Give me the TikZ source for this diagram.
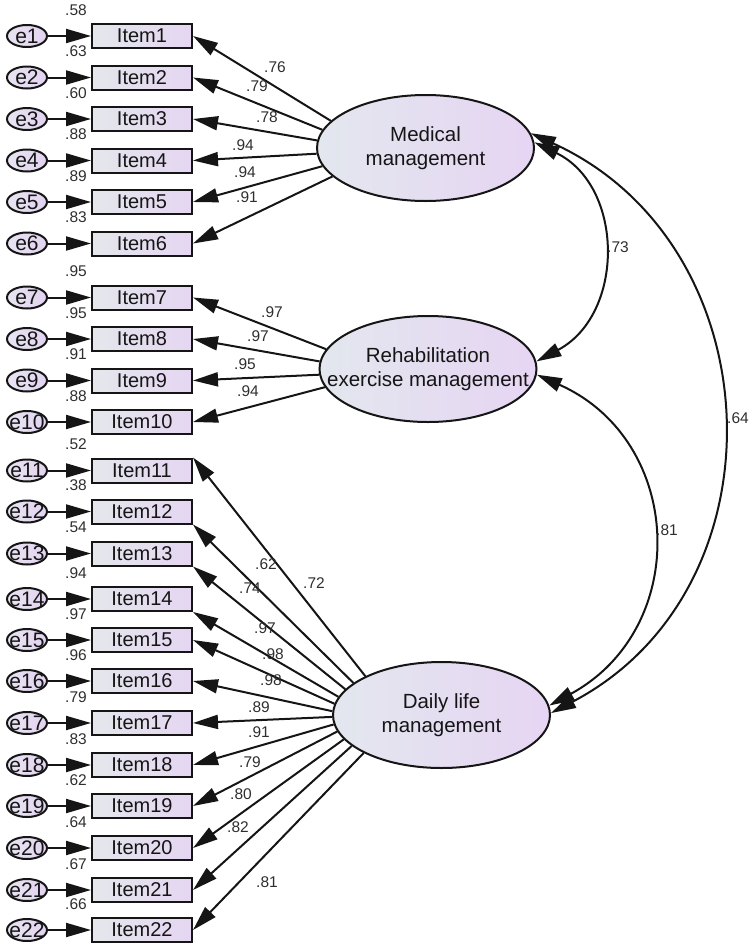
\documentclass[tikz,border=0pt]{standalone}
\usepackage{fontspec}
\setmainfont{Liberation Sans}
\usetikzlibrary{arrows.meta,shapes.geometric,calc}
\definecolor{boxL}{HTML}{E4E7EC}
\definecolor{boxR}{HTML}{E5D6F2}
\definecolor{latL}{HTML}{E3E7EE}
\definecolor{latR}{HTML}{E6D5F3}
\definecolor{eL}{HTML}{E9E4F1}
\definecolor{eR}{HTML}{E2D3F1}
\definecolor{ink}{HTML}{151515}
\definecolor{numc}{HTML}{2E2E2E}
\tikzset{
  x=1pt,y=1pt,
  >={Triangle[length=25pt,width=14pt]},
  item/.style={draw=ink, line width=2pt, left color=boxL, right color=boxR,
    minimum width=100pt, minimum height=24pt, inner sep=0pt,
    font=\fontsize{20}{22}\selectfont, text=ink},
  err/.style={ellipse, draw=ink, line width=2pt, left color=eL, right color=eR,
    minimum width=40pt, minimum height=22pt, inner sep=0pt},
  errtext/.style={font=\fontsize{21}{22}\selectfont, text=ink, inner sep=0pt},
  latent/.style={ellipse, draw=ink, line width=2pt, left color=latL, right color=latR,
    minimum width=217pt, minimum height=106pt, inner sep=0pt},
  lattext/.style={font=\fontsize{20.5}{24}\selectfont, align=center, text=ink, inner sep=0pt},
  num/.style={font=\fontsize{15.5}{17}\selectfont, text=numc, inner sep=0pt},
  conn/.style={line width=2pt, draw=ink, ->},
}
\begin{document}
\begin{tikzpicture}
\useasboundingbox (0,0) rectangle (750,-951);

% indicators and errors
\foreach \i/\yy in {1/36, 2/77.5, 3/119, 4/160.5, 5/202, 6/243.5,
                    7/297.5, 8/339, 9/380.5, 10/422,
                    11/470.5, 12/511.5, 13/553.5, 14/599, 15/640, 16/681,
                    17/723, 18/765, 19/806, 20/848, 21/890, 22/930} {
  \node[err, label={[errtext]center:e\i}] (e\i) at (27,-\yy) {};
  \node[item] (i\i) at (142,-\yy) {Item\i};
  \draw[conn] (e\i) -- (i\i);
}

% squared multiple correlations
\foreach \val/\yy in {.58/36, .63/77.5, .60/119, .88/160.5, .89/202, .83/243.5,
                      .95/297.5, .95/339, .91/380.5, .88/422,
                      .52/470.5, .38/511.5, .54/553.5, .94/599, .97/640, .96/681,
                      .79/723, .83/765, .62/806, .64/848, .67/890, .66/930} {
  \node[num] at (76,-\yy+26) {\val};
}

% latent variables
\node[latent, label={[lattext]center:Medical\\management}] (med) at (425.5,-148) {};
\node[latent, label={[lattext]center:Rehabilitation\\exercise management}] (reh) at (428,-369) {};
\node[latent, label={[lattext]center:Daily life\\management}] (daily) at (441.5,-715) {};

% loadings
\foreach \a/\t in {164.6/i1, 170/i2, 176.8/i3, 183.2/i4, 190/i5, 197.7/i6}
  \draw[conn] (med.\a) -- (\t.east);
\foreach \a/\t in {169.9/i7, 176.3/i8, 183.2/i9, 190.1/i10}
  \draw[conn] (reh.\a) -- (\t.east);
\foreach \a/\t in {153.3/i11.north east, 160.5/i12.south east, 165.9/i13.south east,
                   170.4/i14.south east, 174.4/i15.east, 178.1/i16.east,
                   181.9/i17.east, 185.6/i18.east, 189.6/i19.east, 194.1/i20.east,
                   199.5/i21.east, 206.7/i22.east}
  \draw[conn] (daily.\a) -- (\t);

% loading labels
\foreach \val/\xx/\yy in {.76/275/67, .79/257/86, .78/267/117, .94/243/145, .94/245/172, .91/247/197,
                          .97/272/312, .97/258/336, .95/245/364, .94/248/391,
                          .62/266/564, .72/314/583, .74/250/588, .97/265/628, .98/273/654,
                          .98/271/680, .89/259/707, .91/259/732, .79/250/762, .80/241/794,
                          .82/238/827, .81/267/882} {
  \node[num] at (\xx,-\yy) {\val};
}

% covariances
\draw[conn,<->] (med.3) to[out=-26,in=28,looseness=1.17] (reh.4);
\draw[conn,<->] (med.8) to[out=-24.5,in=27.7,looseness=1.18] (daily.1);
\draw[conn,<->] (reh.-3) to[out=-24,in=28.6,looseness=1.25] (daily.5);
\node[num] at (618,-247) {.73};
\node[num] at (738,-418) {.64};
\node[num] at (667,-530) {.81};
\end{tikzpicture}
\end{document}
